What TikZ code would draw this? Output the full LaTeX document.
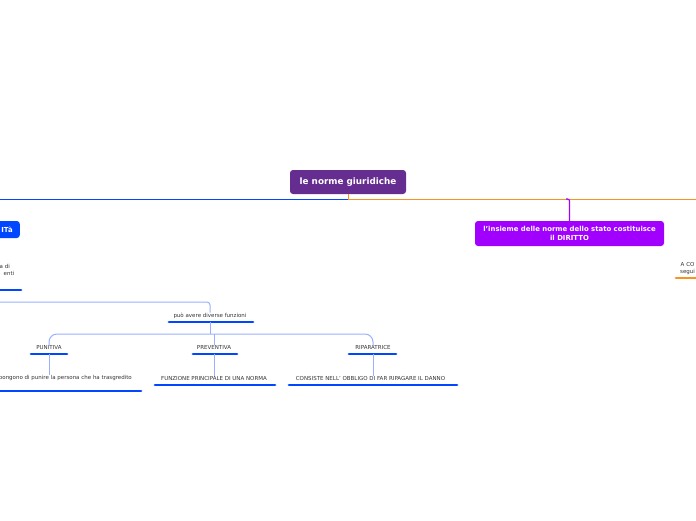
\documentclass[tikz,border=0pt]{standalone}
\usepackage{fontspec}
\setmainfont{DejaVu Sans}
\usepackage{tikz}

\definecolor{rootcol}{HTML}{662D91}
\definecolor{dirittocol}{HTML}{A100FF}
\definecolor{leftcol}{HTML}{0047FF}
\definecolor{barcol}{HTML}{0047FF}
\definecolor{linkcol}{HTML}{99B0FF}
\definecolor{orangecol}{HTML}{F7931E}
\definecolor{txtcol}{HTML}{333333}

\tikzset{
  topic/.style={rounded corners=3pt, text=white, align=center, inner sep=0pt,
    font=\bfseries\fontsize{6.9}{9.4}\selectfont},
  leaf/.style={text=txtcol, inner sep=0pt, align=center, font=\fontsize{5.5}{7.5}\selectfont},
  bar/.style={draw=barcol, line width=2.9pt, line cap=round},
  link/.style={draw=linkcol, line width=1pt},
}

\begin{document}
\begin{tikzpicture}[x=1pt,y=-1pt]
    \useasboundingbox (0,0) rectangle (696,520);
    \clip (0,0) rectangle (696,520);
    % main topic and its branches
    \node[topic, fill=rootcol, minimum width=116pt, minimum height=24pt,
      font=\bfseries\fontsize{8.8}{10}\selectfont] (root) at (348,182) {le norme giuridiche};
    \coordinate (hub) at (348,199);
    \coordinate (leftedge) at (0,199);
    \coordinate (rightedge) at (696,199);
    \draw[orangecol, line width=0.9pt] (root.south) -- (hub);
    \draw[leftcol, line width=0.9pt] (hub) -- (leftedge);
    \draw[orangecol, line width=0.9pt] (hub) -- (rightedge);
    % right topic
    \node[topic, fill=dirittocol, minimum width=189pt, minimum height=25pt] (diritto) at (569.5,233.5)
      {l'insieme delle norme dello stato costituisce\\il DIRITTO};
    \coordinate (dirittohub) at (566,199);
    \draw[dirittocol, line width=1.2pt, rounded corners=2pt] (dirittohub) -| (diritto.north);
    \node[leaf, align=center, anchor=west] (seguito) at (680,268.5) {A CO\\segui};
    \draw[bar, draw=orangecol] (676,278) -- (705,278);
    % left topic
    \node[topic, fill=leftcol, text width=30pt, align=right, minimum height=17pt, inner xsep=7pt,
      anchor=east] (qualita) at (20,229.5) {ITà};
    \node[leaf, align=right, anchor=east] (leftnote) at (14.5,270) {a di\hspace*{4.5pt}\\enti};
    \draw[bar] (-10,290) -- (21,290);
    % funzioni
    \coordinate (leftlink) at (0,302);
    \node[leaf] (funzioni) at (210,315.5) {può avere diverse funzioni};
    \draw[link, rounded corners=3pt] (leftlink) -| (funzioni.north);
    \draw[bar] (169,322) -- (253,322);
    \coordinate (funzbar) at (210,322);
    \coordinate (split) at (210,334);
    \node[leaf] (punitiva) at (49,347.5) {PUNITIVA};
    \node[leaf] (preventiva) at (214,347.5) {PREVENTIVA};
    \node[leaf] (riparatrice) at (373,347.5) {RIPARATRICE};
    \draw[link] (funzbar) -- (split);
    \draw[link, rounded corners=8pt] (punitiva.north) |- (split) -| (riparatrice.north);
    \draw[link] (preventiva.north |- split) -- (preventiva.north);
    \draw[bar] (31,354) -- (67,354);
    \draw[bar] (193,354) -- (237,354);
    \draw[bar] (349,354) -- (396,354);
    \coordinate (punbar) at (49,354);
    \coordinate (prevbar) at (214,354);
    \coordinate (ripbar) at (373,354);
    % descrizioni
    \node[leaf, anchor=east] (sanzione) at (132,378) {pongono di punire la persona che ha trasgredito};
    \node[leaf] (principale) at (214,378) {FUNZIONE PRINCIPALE DI UNA NORMA};
    \node[leaf] (danno) at (370.5,378) {CONSISTE NELL' OBBLIGO DI FAR RIPAGARE IL DANNO};
    \draw[link] (punbar) -- (punbar |- sanzione.north);
    \draw[link] (prevbar) -- (prevbar |- principale.north);
    \draw[link] (ripbar) -- (ripbar |- danno.north);
    \draw[bar] (-50,391) -- (141,391);
    \draw[bar] (155,385) -- (275,385);
    \draw[bar] (289,385) -- (457,385);
\end{tikzpicture}
\end{document}
